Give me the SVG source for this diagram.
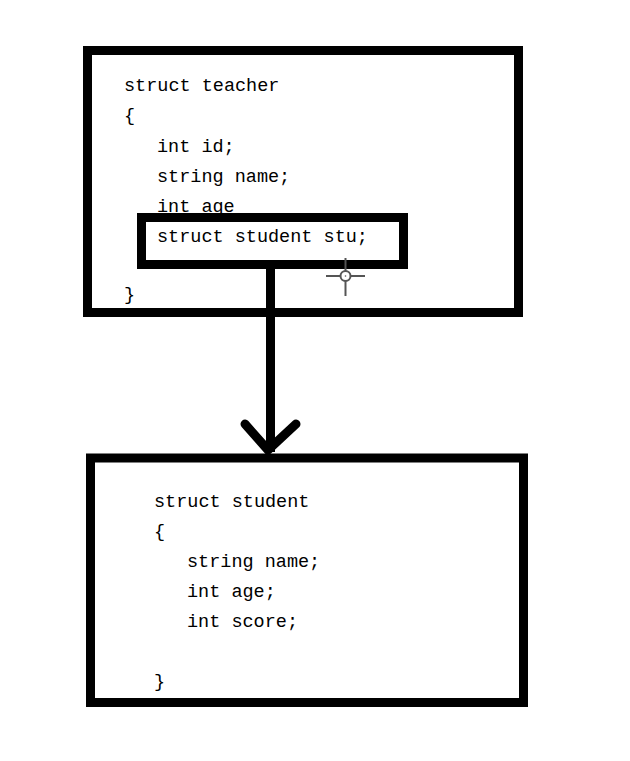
<svg xmlns="http://www.w3.org/2000/svg" width="630" height="761" viewBox="0 0 630 761">
<style>
.box{fill:none;stroke:#000;stroke-width:9}
.code{font-family:"Liberation Mono","DejaVu Sans Mono",monospace;font-size:18.5px;fill:#000}
.conn{fill:none;stroke:#000;stroke-width:9}
</style>
<rect width="630" height="761" fill="#fff"/>
<g id="teacher">
<rect class="box" x="87.5" y="50.5" width="431" height="262"/>
<text class="code" x="124" y="91">struct teacher</text>
<text class="code" x="124" y="121">{</text>
<text class="code" x="157" y="152">int id;</text>
<text class="code" x="157" y="182">string name;</text>
<text class="code" x="157" y="212">int age</text>
<text class="code" x="124" y="300">}</text>
</g>
<g id="stu_field">
<rect class="box" x="141.5" y="217.5" width="262" height="47"/>
<text class="code" x="157" y="242">struct student stu;</text>
</g>
<g id="student">
<rect class="box" x="90.5" y="458" width="433" height="244.5"/>
<text class="code" x="154" y="507">struct student</text>
<text class="code" x="154" y="537">{</text>
<text class="code" x="187" y="567">string name;</text>
<text class="code" x="187" y="597">int age;</text>
<text class="code" x="187" y="627">int score;</text>
<text class="code" x="154" y="687">}</text>
</g>
<g id="connectors">
<line class="conn" x1="270.5" y1="269" x2="270.5" y2="452"/>
<polyline class="conn" points="245,424 268,450 296,424" stroke-linecap="round" stroke-linejoin="miter"/>
</g>
<g id="cursor" stroke="#555" stroke-width="2" fill="none">
<line x1="345.5" y1="258" x2="345.5" y2="296"/>
<line x1="326" y1="276" x2="365" y2="276"/>
<circle cx="345.5" cy="276" r="5" fill="#fff"/>
<circle cx="345.5" cy="276" r="0.8" fill="#555" stroke="none"/>
</g>
</svg>
